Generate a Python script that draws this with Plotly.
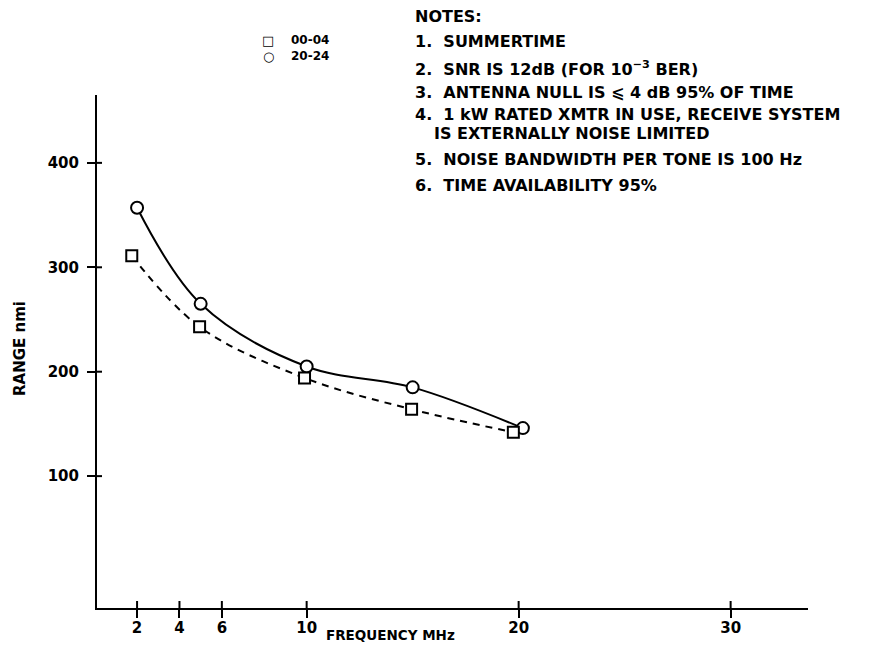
import plotly.graph_objects as go

# ---- data ----
freq_0004 = [1.75, 4.95, 9.9, 14.95, 19.75]
range_0004 = [311, 243, 194, 164, 142]
freq_2024 = [2.0, 5.0, 10.0, 15.0, 20.2]
range_2024 = [357, 265, 205, 185, 146]

x_ticks = [2, 4, 6, 10, 20, 30]
y_ticks = [100, 200, 300, 400]

notes = [
    "NOTES:",
    "1.  SUMMERTIME",
    "2.  SNR IS 12dB (FOR 10<sup>−3</sup> BER)",
    "3.  ANTENNA NULL IS ⩽ 4 dB 95% OF TIME",
    "4.  1 kW RATED XMTR IN USE, RECEIVE SYSTEM",
    "IS EXTERNALLY NOISE LIMITED",
    "5.  NOISE BANDWIDTH PER TONE IS 100 Hz",
    "6.  TIME AVAILABILITY 95%",
]

FONT = "DejaVu Sans"
W, H = 885, 648
OFF = 8  # page body margin
# plot area in screen pixels: left 97, right 808, top 95, bottom 608
L = 97 - OFF
T = 95 - OFF
pw, ph = 711, 513
R = W - L - pw
B = H - T - ph

def px(xs):
    return (xs - 97) / pw

def py(ys):
    return (608 - ys) / ph

fig = go.Figure()
fig.add_trace(go.Scatter(
    x=freq_2024, y=range_2024, mode="lines+markers",
    line=dict(color="black", width=2, shape="spline"),
    marker=dict(symbol="circle", size=12, color="white",
                line=dict(color="black", width=2)),
    showlegend=False))
fig.add_trace(go.Scatter(
    x=freq_0004, y=range_0004, mode="lines+markers",
    line=dict(color="black", width=2, shape="spline", dash="7px,6px"),
    marker=dict(symbol="square", size=11, color="white",
                line=dict(color="black", width=2)),
    showlegend=False))

xr = [0.11, 33.65]
yr = [-26.3, 465]
tickfont = dict(family=FONT, size=15, color="black", weight="bold")
fig.update_layout(
    width=W, height=H,
    margin=dict(l=L, r=R, t=T, b=B),
    paper_bgcolor="white", plot_bgcolor="white",
    font=dict(family=FONT, color="black"),
    xaxis=dict(range=xr, tickvals=x_ticks, ticks="outside", ticklen=8,
               tickwidth=2, tickcolor="black", showline=True, linewidth=2,
               linecolor="black", showgrid=False, zeroline=False,
               tickfont=tickfont, ticklabelstandoff=-3),
    yaxis=dict(range=yr, tickvals=y_ticks, ticks="outside", ticklen=8,
               tickwidth=2, tickcolor="black", showline=True, linewidth=2,
               linecolor="black", showgrid=False, zeroline=False,
               tickfont=tickfont, ticklabelstandoff=5),
)

# inner halves of the crossing tick marks, placed at the tick values
for v in y_ticks:
    fig.add_shape(type="line", xref="x domain", yref="y", x0=0, x1=5 / pw,
                  y0=v, y1=v, line=dict(color="black", width=2))
for v in x_ticks:
    fig.add_shape(type="line", xref="x", yref="y domain", x0=v, x1=v,
                  y0=0, y1=7 / ph, line=dict(color="black", width=2))

ann = []
ann.append(dict(text="RANGE nmi", x=px(20), y=py(349), xref="paper",
                yref="paper", xanchor="center", yanchor="middle",
                textangle=-90, showarrow=False,
                font=dict(family=FONT, size=15, weight="bold")))
ann.append(dict(text="FREQUENCY MHz", x=px(390), y=py(635), xref="paper",
                yref="paper", xanchor="center", yanchor="middle",
                showarrow=False,
                font=dict(family=FONT, size=13.5, weight="bold")))
# legend
for sym, lab, yy in [("□", "00-04", 40), ("○", "20-24", 56)]:
    ann.append(dict(text=sym, x=px(268), y=py(yy), xref="paper", yref="paper",
                    xanchor="center", yanchor="middle",
                    showarrow=False, font=dict(family=FONT, size=13)))
    ann.append(dict(text=lab, x=px(289), y=py(yy), xref="paper", yref="paper",
                    xanchor="left", yanchor="middle", showarrow=False,
                    font=dict(family=FONT, size=12, weight="bold")))
# notes
note_y = [16, 42, 68, 93, 114, 133, 159, 185]
for t, yy in zip(notes, note_y):
    xx = 432 if t.startswith("IS EXT") else 413
    ann.append(dict(text=t, x=px(xx), y=py(yy), xref="paper", yref="paper",
                    xanchor="left", yanchor="middle", showarrow=False,
                    font=dict(family=FONT, size=16, weight="bold")))
fig.update_layout(annotations=ann)

fig.write_html("out.html")
